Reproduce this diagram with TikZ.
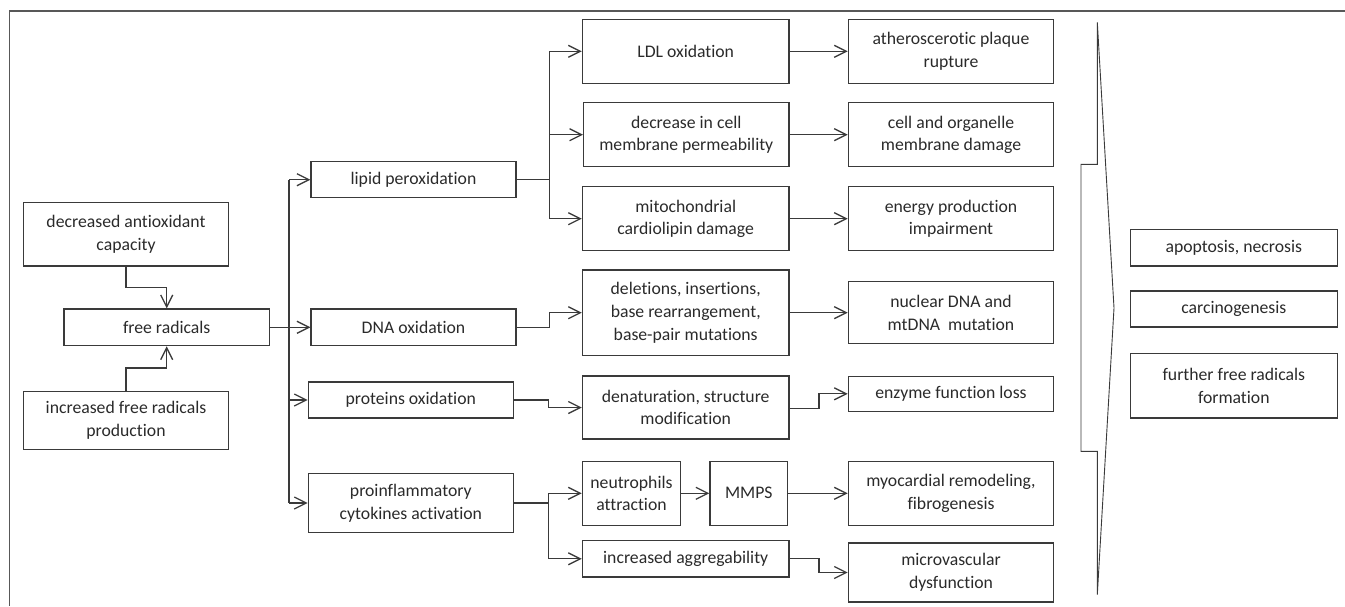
\documentclass[tikz,border=0pt]{standalone}
\usepackage{fontspec}
\setmainfont{Carlito}[Ligatures=NoCommon]
\usetikzlibrary{arrows.meta}
\definecolor{ink}{HTML}{3A3A3A}
\definecolor{txt}{HTML}{2A2A2A}
\tikzset{
  box/.style={draw=ink, line width=1.2pt, rectangle, inner sep=0pt, align=center,
    text=txt, font=\fontsize{17.7}{22.6}\selectfont},
  conn/.style={draw=ink, line width=1.3pt},
  arr/.style={conn, -{Straight Barb[length=12pt, width=12pt, line width=1.3pt]}},
  frame/.style={draw=ink!85, line width=1.2pt},
  brk/.style={draw=ink, line width=0.9pt, line join=miter}
}
\begin{document}
\begin{tikzpicture}[x=1pt, y=-1pt]
\useasboundingbox (0,0) rectangle (1345,606);
% frame (top and left edges)
\draw[frame] (1345,11) -- (9.5,11) -- (9.5,606);

% left column
\node[box, minimum width=205.4pt, minimum height=63.3pt] (dac) at (126,234.3) {decreased antioxidant\\capacity};
\node[box, minimum width=205.3pt, minimum height=36.7pt] (fr) at (166.7,327.3) {free radicals};
\node[box, minimum width=205.4pt, minimum height=58.4pt] (ifr) at (126,420.5) {increased free radicals\\production};

% second column
\node[box, minimum width=205pt, minimum height=36pt] (lp) at (413.5,179.7) {lipid peroxidation};
\node[box, minimum width=205pt, minimum height=36.7pt] (dna) at (413.5,327.3) {DNA oxidation};
\node[box, minimum width=205pt, minimum height=36pt] (po) at (410.8,400) {proteins oxidation};
\node[box, minimum width=205pt, minimum height=58.6pt] (pc) at (410.8,503) {proinflammatory\\cytokines activation};

% third column
\node[box, minimum width=206.7pt, minimum height=64pt] (ldl) at (685.7,51.3) {LDL oxidation};
\node[box, minimum width=205.3pt, minimum height=64pt] (dcm) at (686.3,134.7) {decrease in cell\\membrane permeability};
\node[box, minimum width=206.7pt, minimum height=64pt] (mcd) at (685.7,218.7) {mitochondrial\\cardiolipin damage};
\node[box, minimum width=206.7pt, minimum height=85.3pt] (del) at (685.7,312.7) {deletions, insertions,\\base rearrangement,\\base-pair mutations};
\node[box, minimum width=206.7pt, minimum height=63pt] (den) at (685.7,407.5) {denaturation, structure\\modification};
\node[box, minimum width=98.4pt, minimum height=64pt] (neu) at (631.5,493.3) {neutrophils\\attraction};
\node[box, minimum width=77.7pt, minimum height=64pt] (mmps) at (748.8,493.3) {MMPS};
\node[box, minimum width=206.7pt, minimum height=36.3pt] (agg) at (685.7,558.8) {increased aggregability};

% fourth column
\node[box, minimum width=205.4pt, minimum height=64pt] (ath) at (951,51.3) {atheroscerotic plaque\\rupture};
\node[box, minimum width=205.4pt, minimum height=64pt] (cell) at (951,134.7) {cell and organelle\\membrane damage};
\node[box, minimum width=205.4pt, minimum height=64pt] (en) at (951,218.7) {energy production\\impairment};
\node[box, minimum width=205.4pt, minimum height=62pt] (nuc) at (951,312.7) {nuclear DNA and\\mtDNA~ mutation};
\node[box, minimum width=205.4pt, minimum height=35pt] (enz) at (951,393.8) {enzyme function loss};
\node[box, minimum width=205.4pt, minimum height=64pt] (myo) at (951,493.3) {myocardial remodeling,\\fibrogenesis};
\node[box, minimum width=205.4pt, minimum height=59pt] (mic) at (951,572.5) {microvascular\\dysfunction};

% outcomes
\node[box, minimum width=207pt, minimum height=36.7pt] (apo) at (1233.8,247.7) {apoptosis, necrosis};
\node[box, minimum width=207pt, minimum height=36pt] (car) at (1233.8,309) {carcinogenesis};
\node[box, minimum width=207pt, minimum height=64.3pt] (ffr) at (1233.8,385.8) {further free radicals\\formation};

% inputs to free radicals
\draw[arr] (dac.south) -- ++(0,20.7) -| (fr.north);
\draw[arr] (ifr.north) -- ++(0,-22.6) -| (fr.south);

% free radicals trunk
\coordinate (t1) at (289,0);
\draw[arr] (fr.east) -- (dna.west);
\draw[conn] (lp.west -| t1) -- (pc.west -| t1);
\draw[arr] (lp.west -| t1) -- (lp.west);
\draw[arr] (po.west -| t1) -- (po.west);
\draw[arr] (pc.west -| t1) -- (pc.west);

% lipid peroxidation branches
\coordinate (t2) at (549.3,0);
\draw[conn] (lp.east) -- (lp.east -| t2);
\draw[conn] (ldl.west -| t2) -- (mcd.west -| t2);
\draw[arr] (ldl.west -| t2) -- (ldl.west);
\draw[arr] (dcm.west -| t2) -- (dcm.west);
\draw[arr] (mcd.west -| t2) -- (mcd.west);

% DNA / proteins
\draw[arr] (dna.east) -- (dna.east -| t2) |- (del.west);
\coordinate (t3) at (548.3,0);
\draw[arr] (po.east) -- (po.east -| t3) |- (den.west);

% proinflammatory
\draw[conn] (pc.east) -- (pc.east -| t3);
\draw[conn] (neu.west -| t3) -- (agg.west -| t3);
\draw[arr] (neu.west -| t3) -- (neu.west);
\draw[arr] (agg.west -| t3) -- (agg.west);
\draw[arr] (neu.east) -- (mmps.west);

% to fourth column
\draw[arr] (ldl.east) -- (ath.west);
\draw[arr] (dcm.east) -- (cell.west);
\draw[arr] (mcd.east) -- (en.west);
\draw[arr] (del.east) -- (nuc.west);
\coordinate (t4) at (819,0);
\draw[arr] ([yshift=-1.2pt]den.east) -- ([yshift=-1.2pt]den.east -| t4) |- (enz.west);
\draw[arr] (mmps.east) -- (myo.west);
\draw[arr] (agg.east) -- (agg.east -| t4) |- (mic.west);

% big bracket arrow
\draw[brk] (1097.3,22.3) -- (1097.3,164.3) -- (1081,164.3) -- (1081,451.3)
  -- (1097.3,451.3) -- (1097.3,594.7) -- (1114,308) -- cycle;
\end{tikzpicture}
\end{document}
